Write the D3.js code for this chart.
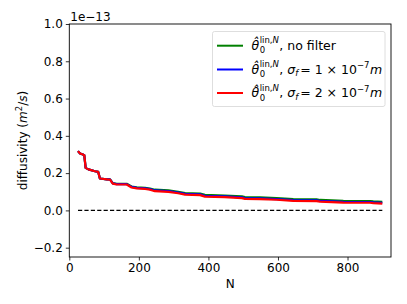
<!DOCTYPE html>
<html>
<head>
<meta charset="utf-8">
<script src="https://cdn.jsdelivr.net/npm/d3@7"></script>
<style>
  body { margin: 0; background: #fff; }
  svg { font-family: "DejaVu Sans", sans-serif; }
  text { white-space: pre; }
</style>
</head>
<body>
<svg id="chart" width="407" height="304"></svg>
<script>
// values, in units of 1e-13 m^2/s
const sampleN = [25, 31, 39, 43, 47, 55, 74, 83, 88, 108, 117, 125, 136, 165, 179, 194, 218, 232, 246, 285, 313, 333, 376, 390, 447, 496, 505, 548, 596, 644, 711, 721, 788, 865, 874, 900];
const noFilter = [0.318, 0.305, 0.300, 0.296, 0.228, 0.220, 0.210, 0.207, 0.171, 0.166, 0.166, 0.146, 0.143, 0.143, 0.128, 0.124, 0.121, 0.117, 0.111, 0.107, 0.100, 0.093, 0.090, 0.083, 0.080, 0.075, 0.071, 0.070, 0.066, 0.060, 0.059, 0.056, 0.051, 0.050, 0.048, 0.046];
const sigma1 = [0.318, 0.305, 0.300, 0.296, 0.228, 0.220, 0.210, 0.207, 0.171, 0.166, 0.166, 0.145, 0.141, 0.141, 0.126, 0.121, 0.118, 0.114, 0.107, 0.103, 0.096, 0.089, 0.086, 0.078, 0.075, 0.070, 0.066, 0.065, 0.061, 0.055, 0.054, 0.051, 0.046, 0.045, 0.043, 0.041];
const sigma2 = [0.318, 0.305, 0.300, 0.296, 0.228, 0.220, 0.210, 0.207, 0.171, 0.166, 0.165, 0.144, 0.139, 0.139, 0.123, 0.118, 0.115, 0.111, 0.103, 0.099, 0.092, 0.085, 0.082, 0.074, 0.071, 0.066, 0.062, 0.061, 0.057, 0.051, 0.050, 0.047, 0.042, 0.041, 0.039, 0.036];

const xTicks = [0, 200, 400, 600, 800];
const yTicks = [-0.2, 0.0, 0.2, 0.4, 0.6, 0.8, 1.0];
const seriesColors = ["#008000", "#0000ff", "#ff0000"];

const margin = { left: 69.3, right: 16, top: 24, bottom: 47 };
const width = 407, height = 304;
const fs = 12;

const svg = d3.select("#chart");

const x = d3.scaleLinear().domain([0, 925]).range([margin.left, width - margin.right]);
const y = d3.scaleLinear().domain([-0.25, 1.0]).range([height - margin.bottom, margin.top]);

// axes
const xAxis = d3.axisBottom(x).tickValues(xTicks).tickSize(3.5).tickPadding(3).tickFormat(d3.format("d"));
const yAxis = d3.axisLeft(y).tickValues(yTicks).tickSize(3.5).tickPadding(3)
  .tickFormat(d => d3.format(".1f")(d).replace("-", "\u2212"));

const xAxisG = svg.append("g").attr("transform", `translate(0,${height - margin.bottom})`).call(xAxis);
const yAxisG = svg.append("g").attr("transform", `translate(${margin.left},0)`).call(yAxis);
[xAxisG, yAxisG].forEach(g => {
  g.select(".domain").remove();
  g.selectAll("text").attr("font-size", fs).attr("fill", "#000").attr("font-family", "DejaVu Sans");
  g.selectAll("line").attr("stroke", "#000").attr("stroke-width", 0.8);
});

// dashed zero line
svg.append("line")
  .attr("x1", x(25)).attr("x2", x(900))
  .attr("y1", y(0)).attr("y2", y(0))
  .attr("stroke", "#000").attr("stroke-width", 1.3)
  .attr("stroke-dasharray", "4.2,2.2");

// series
const line = d3.line().x(d => x(d[0])).y(d => y(d[1]));
[noFilter, sigma1, sigma2].forEach((vals, i) => {
  svg.append("path")
    .datum(sampleN.map((n, j) => [n, vals[j]]))
    .attr("fill", "none")
    .attr("stroke", seriesColors[i])
    .attr("stroke-width", 2.2)
    .attr("stroke-linejoin", "round")
    .attr("d", line);
});

// frame
svg.append("rect")
  .attr("x", margin.left).attr("y", margin.top)
  .attr("width", width - margin.right - margin.left)
  .attr("height", height - margin.bottom - margin.top)
  .attr("fill", "none").attr("stroke", "#000").attr("stroke-width", 0.9);

// offset text and axis labels
svg.append("text").attr("x", margin.left + 1).attr("y", 21)
  .attr("font-size", fs).text("1e\u221213");

svg.append("text")
  .attr("x", (margin.left + width - margin.right) / 2).attr("y", 288)
  .attr("text-anchor", "middle").attr("font-size", fs).text("N");

const yLab = svg.append("text")
  .attr("transform", `translate(27,${(margin.top + height - margin.bottom) / 2}) rotate(-90)`)
  .attr("text-anchor", "middle").attr("font-size", fs);
yLab.append("tspan").text("diffusivity (");
yLab.append("tspan").attr("font-style", "italic").text("m");
yLab.append("tspan").attr("font-size", 8.5).attr("dy", -5).text("2");
yLab.append("tspan").attr("dy", 5).text("/");
yLab.append("tspan").attr("font-style", "italic").text("s");
yLab.append("tspan").text(")");

// legend
const legend = svg.append("g");
legend.append("rect")
  .attr("x", 212.5).attr("y", 31.5).attr("width", 172.5).attr("height", 75)
  .attr("rx", 2).attr("fill", "#fff").attr("fill-opacity", 0.8)
  .attr("stroke", "#d6d6d6").attr("stroke-width", 0.8);

const lfs = 12.5, sub = 8.5;

// one text element built from runs [str, italic]; returns its width
function runText(g, x0, y0, size, runs) {
  const t = g.append("text").attr("x", x0).attr("y", y0).attr("font-size", size);
  runs.forEach(r => t.append("tspan").attr("font-style", r[1] ? "italic" : "normal").text(r[0]));
  return t.node().getComputedTextLength();
}

// pieces: {runs, size, dy, gap} or {stack: [pieces]} drawn at a shared start x
function drawRich(g, x0, yBase, pieces) {
  let cx = x0;
  pieces.forEach(p => {
    if (p.stack) {
      const w = d3.max(p.stack.map(s => runText(g, cx, yBase + s.dy, s.size, s.runs)));
      cx += w + 0.5;
    } else {
      cx += runText(g, cx, yBase + (p.dy || 0), p.size || lfs, p.runs) + (p.gap || 0);
    }
  });
}

const theta = [
  { runs: [["\u03b8\u0302", true]], gap: 0.5 },
  { stack: [
    { runs: [["lin,", false], ["N", true]], size: sub, dy: -6.5 },
    { runs: [["0", false]], size: sub, dy: 3.5 }
  ] }
];
const sigmaPart = n => [
  { runs: [[", ", false], ["\u03c3", true]] },
  { runs: [["f", true]], size: sub, dy: 2.5, gap: 2 },
  { runs: [["= " + n + " \u00d7 10", false]] },
  { runs: [["\u22127", false]], size: sub, dy: -5.5, gap: 0.5 },
  { runs: [["m", true]] }
];
const labels = [
  theta.concat([{ runs: [[", no filter", false]] }]),
  theta.concat(sigmaPart(1)),
  theta.concat(sigmaPart(2))
];
const rowY = [45.7, 69.5, 93];
labels.forEach((lab, i) => {
  legend.append("line")
    .attr("x1", 217).attr("x2", 243).attr("y1", rowY[i]).attr("y2", rowY[i])
    .attr("stroke", seriesColors[i]).attr("stroke-width", 2);
  drawRich(legend, 251.5, rowY[i] + 4, lab);
});
</script>
</body>
</html>
